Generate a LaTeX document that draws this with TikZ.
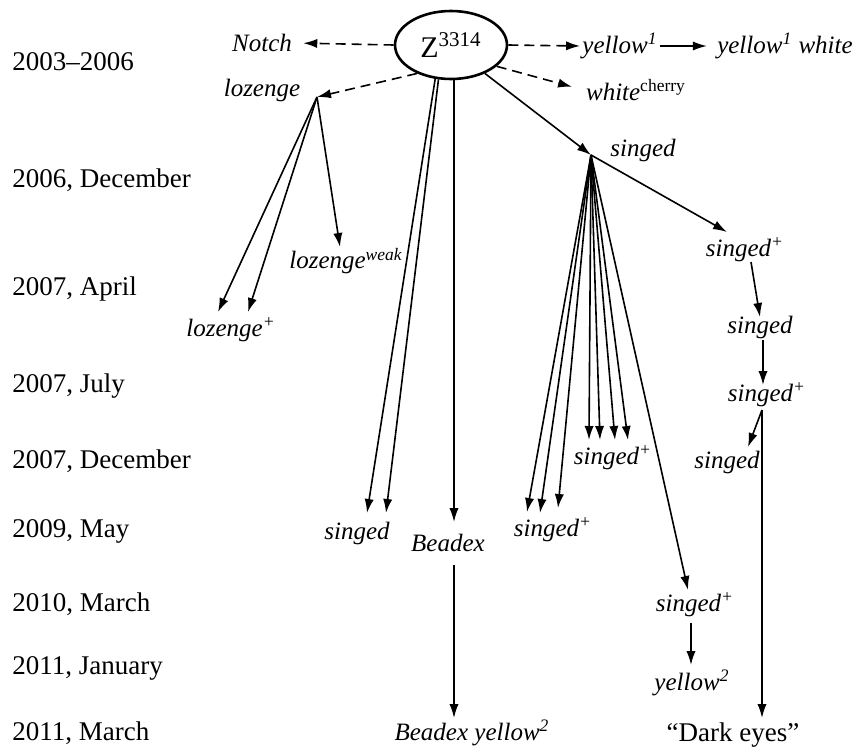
\documentclass[tikz,border=0pt]{standalone}
\usepackage{fontspec}
\setmainfont{Liberation Serif}
\usetikzlibrary{arrows.meta, positioning, shapes.geometric, calc}

\begin{document}
\begin{tikzpicture}[
    x=0.5pt, y=-0.5pt,
    every node/.style={inner sep=1pt},
    lbl/.style={font=\itshape\fontsize{12.5}{15}\selectfont},
    yr/.style={anchor=west, inner sep=0pt, font=\fontsize{13.5}{16}\selectfont},
    arr/.style={line width=0.8pt, -{Latex[length=7pt, width=4.6pt]}},
    dasharr/.style={arr, dash pattern=on 5pt off 3pt}
  ]
  \useasboundingbox (0,0) rectangle (853,750);

  \foreach \y/\t [count=\i] in {62/2003--2006, 180/{2006, December}, 289/{2007, April},
      386/{2007, July}, 461/{2007, December}, 531/{2009, May}, 604/{2010, March},
      668/{2011, January}, 733/{2011, March}}
    \node[yr] (d\i) at (12,\y) {\t};

  \node[ellipse, draw, line width=1.3pt, minimum width=56pt, minimum height=34pt,
        font=\fontsize{15}{18}\selectfont] (z) at (451,45) {Z\textsuperscript{3314}};

  \node[lbl] (notch) at (262,43) {Notch};
  \node[lbl] (yel) at (620,46) {yellow\textsuperscript{1}};
  \node[lbl] (yelw) at (785,46) {yellow\textsuperscript{1} white};
  \node[lbl] (whc) at (636,90) {white\textsuperscript{\upshape cherry}};
  \node[lbl] (loz) at (262,90) {lozenge};
  \node[lbl] (lzw) at (346,261) {lozenge\textsuperscript{weak}};
  \node[lbl] (lzp) at (231,330) {lozenge\textsuperscript{+}};
  \node[lbl] (sg1) at (357,533) {singed};
  \node[lbl] (bdx) at (448,543) {Beadex};
  \node[lbl] (bdy) at (472,733) {Beadex yellow\textsuperscript{2}};
  \node[lbl] (sgt) at (643,150) {singed};
  \node[lbl] (sp1) at (745,250) {singed\textsuperscript{+}};
  \node[lbl] (s2) at (760,327) {singed};
  \node[lbl] (sp3) at (767,395) {singed\textsuperscript{+}};
  \node[lbl] (s4) at (727,462) {singed};
  \node[lbl] (sp5) at (613,458) {singed\textsuperscript{+}};
  \node[lbl] (sp6) at (553,530) {singed\textsuperscript{+}};
  \node[lbl] (sp7) at (695,605) {singed\textsuperscript{+}};
  \node[lbl] (y2) at (692,683) {yellow\textsuperscript{2}};
  \node[font=\fontsize{13.5}{16}\selectfont] (dark) at (733,735) {``Dark eyes''};

  \coordinate (lz) at (317,97);
  \coordinate (sg) at (591,155);
  \coordinate (bx) at ($(z.south)+(3,0)$);

  \draw[dasharr, shorten >=4.5pt] (z.west) -- (notch.east);
  \draw[dasharr] (z.east) -- (yel.west);
  \draw[arr, shorten >=4pt] (yel.east) -- (yelw.west);
  \draw[dasharr, shorten >=6pt] (z.-25) -- (whc.west);
  \draw[dasharr] (z.220) -- (lz);

  \draw[arr] (lz) -- ($(lzp)+(-13,-18)$);
  \draw[arr] (lz) -- ($(lzp)+(17,-18)$);
  \draw[arr] (lz) -- ($(lzw)+(-6,-14)$);

  \draw[arr] (z.245) -- ($(sg1)+(10,-20)$);
  \draw[arr] (z.250) -- ($(sg1)+(29,-20)$);
  \draw[arr] (bx) -- ($(bx |- bdx)+(0,-21)$);
  \draw[arr] ($(bx |- bdx)+(0,22)$) -- ($(bx |- bdy)+(0,-15)$);
  \draw[arr] (z.-40) -- (sg);

  \draw[arr] (sg) -- ($(sp1)+(-18,-18)$);
  \foreach \dx in {-24,-13,2,15}
    \draw[arr] (sg) -- ($(sp5)+(\dx,-18)$);
  \draw[arr] (sg) -- ($(sp6)+(-26,-18)$);
  \draw[arr] (sg) -- ($(sp6)+(-13,-17)$);
  \draw[arr] (sg) -- ($(sp6)+(5,-22)$);
  \draw[arr] (sg) -- ($(sp7)+(-7,-15)$);

  \draw[arr] ($(sp1)+(6,12)$) -- ($(s2)+(0,-10)$);
  \draw[arr] ($(s2)+(3,13)$) -- ($(sp3)+(-4,-10)$);
  \draw[arr] ($(sp3)+(-5,15)$) -- ($(s4)+(21,-15)$);
  \draw[arr] ($(sp3)+(-5,15)$) -- ($(dark)+(29,-17)$);
  \draw[arr] ($(sp7)+(-4,18)$) -- ($(y2)+(-1,-18)$);
\end{tikzpicture}
\end{document}
